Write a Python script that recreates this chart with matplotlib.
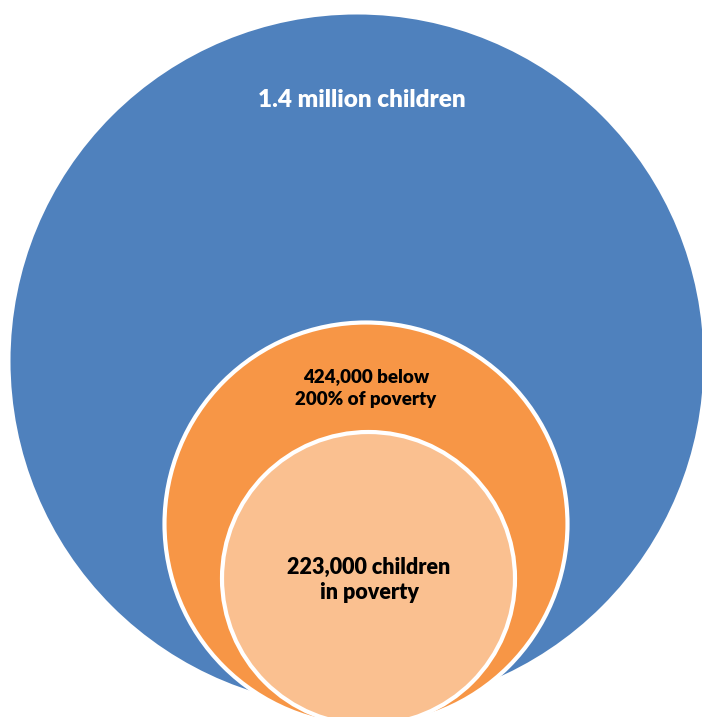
import matplotlib
matplotlib.use("Agg")
import matplotlib.pyplot as plt
from matplotlib.patches import Circle

# ---- data ----
groups = ["All children", "Below 200% of poverty", "In poverty"]
values = [1400000, 424000, 223000]
labels = ["1.4 million children", "424,000 below\n200% of poverty", "223,000 children\nin poverty"]

# ---- layout (pixels) ----
centers = [(357, 361), (366, 524), (368.5, 578.5)]
radii = [346.5, 201.5, 146.5]
fills = ["#4F81BD", "#F79646", "#FAC090"]
edges = ["none", "white", "white"]
label_pos = [(362, 100), (366, 388), (369, 580)]
label_colors = ["white", "black", "black"]
label_sizes = [17.5, 13.5, 15.5]
label_spacing = [1.2, 1.45, 1.2]

W, H = 702, 717
fig = plt.figure(figsize=(W / 100, H / 100), dpi=100)
ax = fig.add_axes([0, 0, 1, 1])
ax.set_xlim(0, W)
ax.set_ylim(H, 0)
ax.set_aspect("equal")
ax.axis("off")

for (cx, cy), r, fc, ec in zip(centers, radii, fills, edges):
    ax.add_patch(Circle((cx, cy), r, facecolor=fc, edgecolor=ec,
                        linewidth=3 if ec != "none" else 0, zorder=2))

for (x, y), txt, c, s, ls in zip(label_pos, labels, label_colors, label_sizes, label_spacing):
    ax.text(x, y, txt, ha="center", va="center", color=c, fontsize=s,
            fontweight="heavy", family=["Lato", "DejaVu Sans"],
            linespacing=ls, zorder=3)

fig.savefig("out.png", dpi=100)
